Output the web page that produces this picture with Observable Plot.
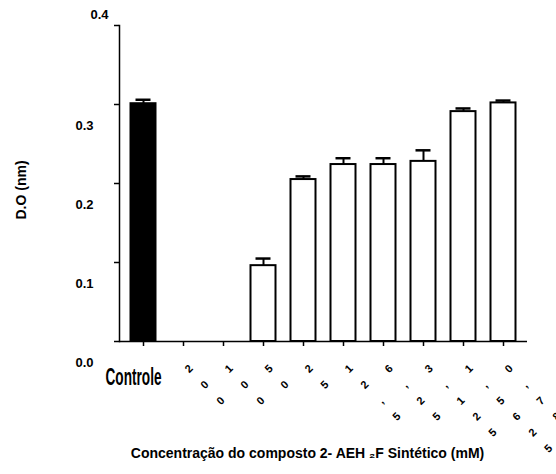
<!DOCTYPE html>
<html>
<head>
<meta charset="utf-8">
<script src="https://cdn.jsdelivr.net/npm/d3@7"></script>
<script src="https://cdn.jsdelivr.net/npm/@observablehq/plot@0.6"></script>
<style>
  html, body { margin: 0; padding: 0; background: #fff; }
</style>
</head>
<body>
<div id="chart"></div>
<script>
// Optical density by concentration of synthetic 2-AEH2F (mean + upper error)
const categories = ["Controle", "200", "100", "50", "25", "12,5", "6,25", "3,125", "1,5625", "0,78125"];
const means  = [0.301, 0, 0, 0.096, 0.205, 0.224, 0.224, 0.228, 0.291, 0.302];
const errors = [0.005, 0, 0, 0.009, 0.004, 0.008, 0.008, 0.014, 0.004, 0.003];
const yTicks = [0, 0.1, 0.2, 0.3, 0.4];
const yLabelTicks = [0, 0.1, 0.2, 0.3];
const yTopTick = [0.4];
const yTitle = "D.O (nm)";
const xTitle = "Concentração do composto 2- AEH ₂F Sintético (mM)";

const rows = categories.map((cat, i) => ({cat, mean: means[i], err: errors[i]}));
const drawn = rows.filter(d => d.mean > 0);
const control = drawn.filter(d => d.cat === "Controle");
const treated = drawn.filter(d => d.cat !== "Controle");
const doses = rows.filter(d => d.cat !== "Controle");

const font = "Liberation Sans, Arial, Helvetica, sans-serif";

const chart = Plot.plot({
  width: 556,
  height: 474,
  marginLeft: 119,
  marginRight: 29,
  marginTop: 25,
  marginBottom: 133,
  style: {fontFamily: font, background: "white", color: "black"},
  x: {domain: categories, paddingInner: 0.3, paddingOuter: 0.185},
  y: {domain: [0, 0.4]},
  marks: [
    // bars
    Plot.barY(control, {x: "cat", y: "mean", fill: "black", stroke: "black", strokeWidth: 2, insetLeft: 1.5, insetRight: 1.5}),
    Plot.barY(treated, {x: "cat", y: "mean", fill: "white", stroke: "black", strokeWidth: 2, insetLeft: 1.5, insetRight: 1.5}),
    // upper error bars
    Plot.ruleX(drawn, {x: "cat", y1: "mean", y2: d => d.mean + d.err, stroke: "black", strokeWidth: 2}),
    Plot.tickY(drawn, {x: "cat", y: d => d.mean + d.err, stroke: "black", strokeWidth: 2.5, insetLeft: 6.5, insetRight: 6.5}),
    // axes lines and ticks
    Plot.ruleY([0], {stroke: "black", strokeWidth: 1.5}),
    Plot.frame({anchor: "left", stroke: "black", strokeWidth: 1.5}),
    Plot.axisX({tickSize: 5, tickFormat: () => "", strokeWidth: 1.5, label: null}),
    Plot.axisY(yTicks, {tickSize: 5, tickFormat: () => "", strokeWidth: 1.5, label: null}),
    // y tick labels
    Plot.text(yLabelTicks, {y: d => d, text: d => d.toFixed(1), frameAnchor: "left", textAnchor: "end",
      dx: -26, dy: 21, fontSize: 13, fontWeight: "bold"}),
    Plot.text(yTopTick, {y: d => d, text: d => d.toFixed(1), frameAnchor: "left", textAnchor: "end",
      dx: -11, dy: -11, fontSize: 13, fontWeight: "bold"}),
    // dose labels: stacked characters turned 45°
    Plot.text(doses, {x: "cat", text: d => [...d.cat].join("\n"), frameAnchor: "bottom",
      rotate: -45, lineAnchor: "top", lineHeight: 2.05, dx: -3.5, dy: 18.5,
      fontSize: 11, fontWeight: "bold"}),
    // control label
    Plot.text(["Controle"], {x: d => d, frameAnchor: "bottom", dx: -10, dy: 43,
      fontSize: 23, fontWeight: "bold", fontFamily: "Liberation Sans Narrow, Arial Narrow, Liberation Sans, sans-serif"}),
    // axis titles
    Plot.text([yTitle], {frameAnchor: "left", rotate: -90, dx: -98, dy: 36, fontSize: 14, fontWeight: "bold"}),
    Plot.text([xTitle], {frameAnchor: "bottom", dx: -16, dy: 116, fontSize: 14, fontWeight: "bold"})
  ]
});

document.getElementById("chart").append(chart);

// condensed look for the control label
d3.select(chart).selectAll("text")
  .filter(function() { return this.textContent === "Controle"; })
  .attr("textLength", 56)
  .attr("lengthAdjust", "spacingAndGlyphs");
</script>
</body>
</html>
